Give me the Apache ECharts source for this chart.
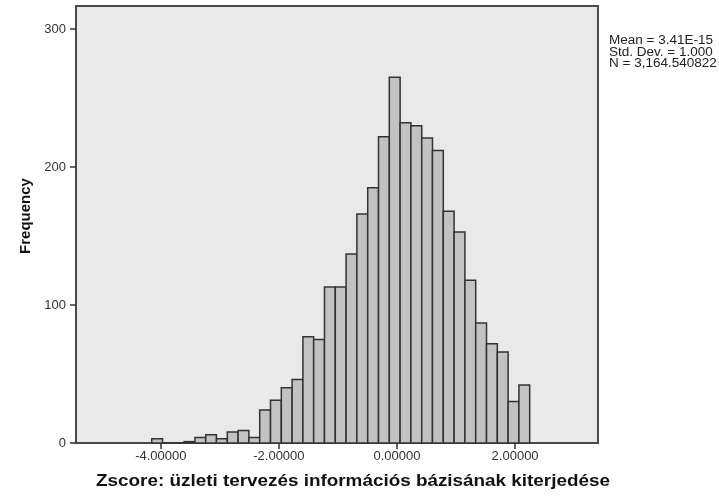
<!DOCTYPE html>
<html>
<head>
<meta charset="utf-8">
<script src="https://cdn.jsdelivr.net/npm/echarts@6/dist/echarts.min.js"></script>
<style>
html,body{margin:0;padding:0;background:#fff;}
#chart{width:719px;height:501px;}
</style>
</head>
<body>
<div id="chart"></div>
<script>
// Bin edges (z-score) of the histogram
const binEdges = [-4.154, -3.971, -3.788, -3.605, -3.422, -3.239, -3.057, -2.874, -2.691, -2.508,
  -2.325, -2.142, -1.959, -1.776, -1.593, -1.411, -1.228, -1.045, -0.862, -0.679,
  -0.496, -0.313, -0.130, 0.053, 0.236, 0.419, 0.601, 0.784, 0.967, 1.150,
  1.333, 1.516, 1.699, 1.882, 2.065, 2.247];
// Frequency in each bin
const frequency = [3, 0, 0, 1, 4, 6, 3, 8, 9, 4,
  24, 31, 40, 46, 77, 75, 113, 113, 137, 166,
  185, 222, 265, 232, 230, 221, 212, 168, 153, 118,
  87, 72, 66, 30, 42];
const xTickValues = [-4, -2, 0, 2];
const yTickValues = [0, 100, 200, 300];
const statsLines = ['Mean = 3.41E-15', 'Std. Dev. = 1.000', 'N = 3,164.540822'];
const xTitle = 'Zscore: üzleti tervezés információs bázisának kiterjedése';
const yTitle = 'Frequency';

const FONT = '"Liberation Sans", Arial, sans-serif';
const histData = frequency.map((f, i) => [binEdges[i], binEdges[i + 1], f]);

const chart = echarts.init(document.getElementById('chart'), null, {renderer: 'canvas'});
chart.setOption({
  animation: false,
  backgroundColor: '#ffffff',
  grid: {
    left: 76, right: 121, top: 6, bottom: 58,
    show: true, backgroundColor: '#e9e9e9', borderColor: '#4a4a4a', borderWidth: 2
  },
  xAxis: {
    type: 'value', min: -5.436, max: 3.404,
    splitLine: {show: false},
    axisLine: {show: true, onZero: false, lineStyle: {color: '#4a4a4a', width: 2}},
    axisTick: {show: true, customValues: xTickValues, length: 6, lineStyle: {color: '#333', width: 1.5}},
    axisLabel: {customValues: xTickValues, formatter: v => v.toFixed(5), color: '#333',
      fontFamily: FONT, fontSize: 13, margin: 7}
  },
  yAxis: {
    type: 'value', min: 0, max: 316.7,
    splitLine: {show: false},
    axisLine: {show: true, onZero: false, lineStyle: {color: '#4a4a4a', width: 2}},
    axisTick: {show: true, customValues: yTickValues, length: 6, lineStyle: {color: '#333', width: 1.5}},
    axisLabel: {customValues: yTickValues, color: '#333', fontFamily: FONT, fontSize: 13, margin: 10}
  },
  series: [{
    type: 'custom',
    data: histData,
    encode: {x: [0, 1], y: 2},
    renderItem: function (params, api) {
      const x0 = api.value(0), x1 = api.value(1), y = api.value(2);
      const p0 = api.coord([x0, y]);
      const p1 = api.coord([x1, 0]);
      return {
        type: 'rect',
        shape: {x: p0[0], y: p0[1], width: p1[0] - p0[0], height: p1[1] - p0[1]},
        style: {fill: '#c2c2c2', stroke: '#333333', lineWidth: 1.5}
      };
    }
  }],
  graphic: [
    {
      type: 'text', x: 609, y: 35, scaleX: 1.125,
      style: {text: statsLines.join('\n'), fill: '#222', font: '12px ' + FONT, lineHeight: 11.5}
    },
    {
      type: 'text', x: 353, y: 481, scaleX: 1.11,
      style: {text: xTitle, fill: '#111', font: 'bold 17px ' + FONT, align: 'center', verticalAlign: 'middle'}
    },
    {
      type: 'text', x: 26, y: 216, rotation: Math.PI / 2,
      style: {text: yTitle, fill: '#111', font: 'bold 15px ' + FONT, align: 'center', verticalAlign: 'middle'}
    }
  ]
});
</script>
</body>
</html>
